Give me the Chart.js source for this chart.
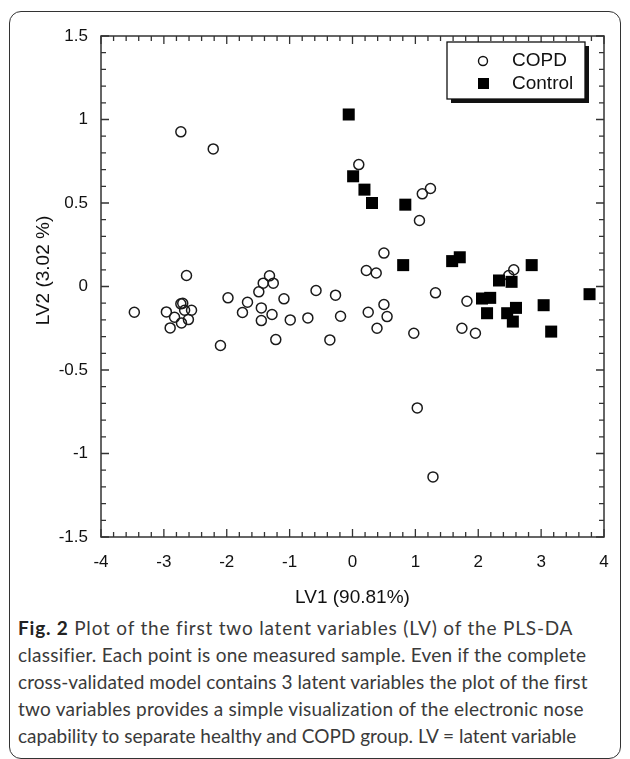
<!DOCTYPE html>
<html>
<head>
<meta charset="utf-8">
<script src="https://cdn.jsdelivr.net/npm/chart.js@4.4.0/dist/chart.umd.min.js"></script>
<style>
  html, body { margin: 0; padding: 0; background: #fff; }
  body { width: 630px; height: 759px; position: relative; overflow: hidden; }
  #frame {
    position: absolute; left: 9px; top: 11px; width: 612px; height: 748px;
    border: 1.5px solid #333; border-radius: 12px; box-sizing: border-box;
  }
  #plot { position: absolute; left: 0; top: 0; }
  #caption {
    position: absolute; left: 18px; top: 614px;
    font-family: Lato, "Open Sans", sans-serif; font-size: 19px; line-height: 27px;
    color: #3a3a3a; white-space: nowrap;
  }
  #caption div { display: block; }
  #caption b { color: #222; }
</style>
</head>
<body>
<div id="frame"></div>
<canvas id="plot" width="630" height="612"></canvas>
<div id="caption">
  <div style="letter-spacing: 0.8px"><b>Fig. 2</b> Plot of the first two latent variables (LV) of the PLS-DA</div>
  <div style="letter-spacing: 0.24px">classifier. Each point is one measured sample. Even if the complete</div>
  <div style="letter-spacing: 0.07px">cross-validated model contains 3 latent variables the plot of the first</div>
  <div style="letter-spacing: 0.22px">two variables provides a simple visualization of the electronic nose</div>
  <div>capability to separate healthy and COPD group. LV = latent variable</div>
</div>
<script>
// Scores (LV1, LV2)
const copdX = [-2.73, -2.215, 0.10, 1.11, 1.24, 1.065, 0.50, 0.22, 0.377, 1.32,
  2.485, 2.565, 1.82, 0.25, 0.50, 0.55, 0.39, 0.975, 1.74, 1.955,
  1.03, 1.28, -3.47, -2.64, -2.96, -2.83, -2.90, -2.73, -2.70, -2.67,
  -2.56, -2.61, -2.72, -2.10, -1.98, -1.75, -1.67, -1.49, -1.45, -1.45,
  -1.42, -1.32, -1.26, -1.28, -1.22, -1.09, -0.99, -0.71, -0.58, -0.27,
  -0.36, -0.19];
const copdY = [0.926, 0.824, 0.73, 0.555, 0.587, 0.395, 0.20, 0.096, 0.081, -0.038,
  0.066, 0.10, -0.088, -0.154, -0.108, -0.18, -0.25, -0.28, -0.25, -0.28,
  -0.727, -1.14, -0.154, 0.066, -0.152, -0.184, -0.248, -0.104, -0.10, -0.142,
  -0.142, -0.198, -0.218, -0.353, -0.068, -0.156, -0.094, -0.032, -0.128, -0.204,
  0.02, 0.064, 0.02, -0.168, -0.318, -0.074, -0.20, -0.188, -0.024, -0.052,
  -0.32, -0.178];

const controlX = [-0.06, 0.01, 0.19, 0.31, 0.84, 0.806, 1.585, 1.706, 2.33, 2.53,
  2.85, 3.77, 2.06, 2.19, 2.14, 2.46, 2.60, 2.55, 3.04, 3.16];
const controlY = [1.03, 0.66, 0.58, 0.50, 0.49, 0.128, 0.152, 0.175, 0.036, 0.028,
  0.128, -0.046, -0.072, -0.068, -0.16, -0.16, -0.128, -0.21, -0.112, -0.27];

const seriesNames = ['COPD', 'Control'];
const xTitle = 'LV1 (90.81%)';
const yTitle = 'LV2 (3.02 %)';

const axisFont = 'Liberation Sans, Arial, sans-serif';

function toPoints(xs, ys) {
  return xs.map((x, i) => ({ x: x, y: ys[i] }));
}

// Frame with inward major/minor ticks on all four sides
const framePlugin = {
  id: 'frameTicks',
  afterDatasetsDraw(chart) {
    const { ctx, chartArea: a, scales } = chart;
    const xs = scales.x, ys = scales.y;
    ctx.save();
    ctx.strokeStyle = '#333';
    ctx.lineWidth = 1.5;
    ctx.strokeRect(a.left, a.top, a.right - a.left, a.bottom - a.top);
    ctx.lineWidth = 1.3;
    ctx.beginPath();
    for (let i = 0; i <= 40; i++) {
      const v = -4 + i * 0.2;
      const px = xs.getPixelForValue(v);
      const len = i % 5 === 0 ? 8 : 5;
      ctx.moveTo(px, a.bottom); ctx.lineTo(px, a.bottom - len);
      ctx.moveTo(px, a.top); ctx.lineTo(px, a.top + len);
    }
    for (let i = 0; i <= 30; i++) {
      const v = -1.5 + i * 0.1;
      const py = ys.getPixelForValue(v);
      const len = i % 5 === 0 ? 8 : 5;
      ctx.moveTo(a.left, py); ctx.lineTo(a.left + len, py);
      ctx.moveTo(a.right, py); ctx.lineTo(a.right - len, py);
    }
    ctx.stroke();

    // y axis title
    ctx.fillStyle = '#111';
    ctx.font = '19px ' + axisFont;
    ctx.textAlign = 'center';
    ctx.textBaseline = 'middle';
    ctx.translate(44, (a.top + a.bottom) / 2 - 16);
    ctx.rotate(-Math.PI / 2);
    ctx.fillText(yTitle, 0, 0);
    ctx.restore();
  }
};

// Boxed legend with drop shadow in the top right corner
const legendPlugin = {
  id: 'boxLegend',
  afterDraw(chart) {
    const { ctx, chartArea: a } = chart;
    const bx = a.right - 157, by = a.top + 6, bw = 138, bh = 57;
    ctx.save();
    ctx.fillStyle = '#111';
    ctx.fillRect(bx + 4, by + 4, bw, bh);
    ctx.fillStyle = '#fff';
    ctx.fillRect(bx, by, bw, bh);
    ctx.strokeStyle = '#111';
    ctx.lineWidth = 1.3;
    ctx.strokeRect(bx, by, bw, bh);

    ctx.lineWidth = 1.4;
    ctx.beginPath();
    ctx.arc(bx + 36, by + 19, 4.5, 0, Math.PI * 2);
    ctx.stroke();
    ctx.fillStyle = '#000';
    ctx.fillRect(bx + 31, by + 36, 11, 11);

    ctx.fillStyle = '#111';
    ctx.font = '19px ' + axisFont;
    ctx.textAlign = 'left';
    ctx.textBaseline = 'middle';
    ctx.fillText(seriesNames[0], bx + 65, by + 19);
    ctx.fillText(seriesNames[1], bx + 65, by + 42);
    ctx.restore();
  }
};

new Chart(document.getElementById('plot'), {
  type: 'scatter',
  data: {
    datasets: [{
      label: seriesNames[0],
      data: toPoints(copdX, copdY),
      pointStyle: 'circle',
      pointRadius: 5,
      borderWidth: 1.5,
      borderColor: '#1a1a1a',
      backgroundColor: 'rgba(0,0,0,0)',
      order: 1
    }, {
      label: seriesNames[1],
      data: toPoints(controlX, controlY),
      pointStyle: 'rect',
      pointRadius: 8.5,
      borderWidth: 0,
      borderColor: '#000',
      backgroundColor: '#000',
      order: 0
    }]
  },
  options: {
    responsive: false,
    animation: false,
    layout: { padding: { top: 36, right: 26, left: 0, bottom: 0 } },
    plugins: {
      legend: { display: false },
      tooltip: { enabled: false }
    },
    scales: {
      x: {
        type: 'linear',
        min: -4,
        max: 4,
        afterFit: function(scale) { scale.height = 75; },
        grid: { display: false, drawTicks: false },
        border: { display: false },
        ticks: {
          stepSize: 1,
          padding: 15,
          color: '#111',
          font: { family: axisFont, size: 17 },
          callback: function(value) { return String(Math.round(value)); }
        },
        title: {
          display: true,
          text: xTitle,
          color: '#111',
          font: { family: axisFont, size: 19 },
          padding: { top: 0, bottom: 3 }
        }
      },
      y: {
        type: 'linear',
        min: -1.5,
        max: 1.5,
        afterFit: function(scale) { scale.width = 101; },
        grid: { display: false, drawTicks: false },
        border: { display: false },
        ticks: {
          stepSize: 0.5,
          padding: 13,
          color: '#111',
          font: { family: axisFont, size: 17 },
          callback: function(value) { return String(Math.round(value * 10) / 10); }
        }
      }
    }
  },
  plugins: [framePlugin, legendPlugin]
});
</script>
</body>
</html>
